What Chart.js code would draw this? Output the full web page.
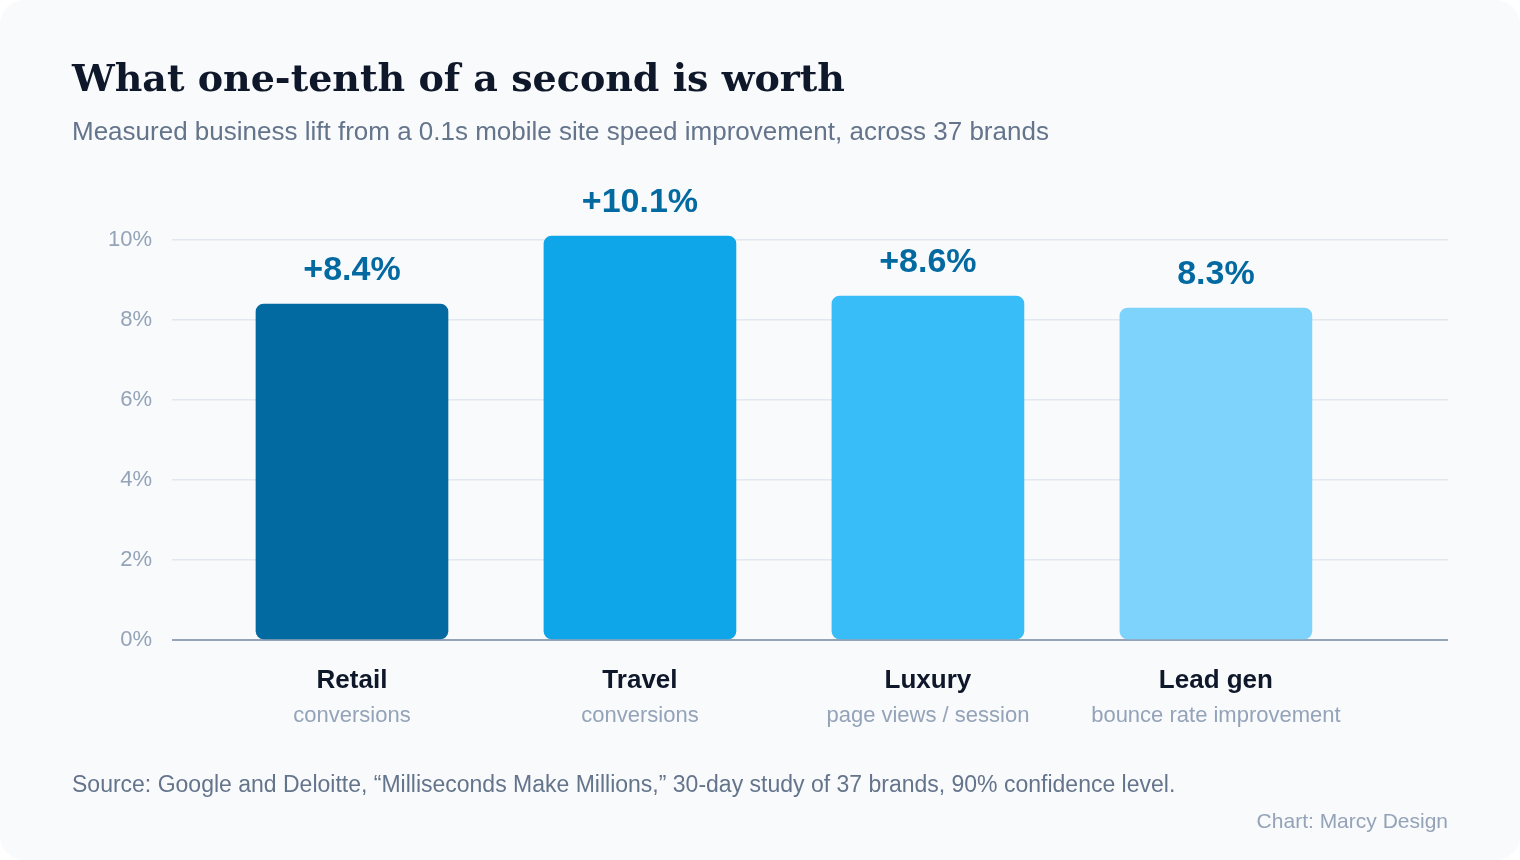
<!DOCTYPE html>
<html>
<head>
<meta charset="utf-8">
<script src="https://cdn.jsdelivr.net/npm/chart.js@4.4.1/dist/chart.umd.min.js"></script>
<style>
  html, body { margin: 0; padding: 0; background: #ffffff; }
  .card {
    position: relative; width: 1520px; height: 860px;
    background: #f8fafc; border-radius: 24px; overflow: hidden;
    font-family: "Liberation Sans", Arial, sans-serif;
  }
  .card canvas { position: absolute; left: 0; top: 0; }
  .txt { position: absolute; line-height: 1; white-space: nowrap; }
  #title { left: 72px; top: 59px; font: bold 38px "DejaVu Serif", Georgia, serif; color: #0f172a; line-height: 1; }
  #subtitle { left: 72px; top: 118px; font-size: 26px; color: #64748b; }
  #source { left: 72px; top: 773px; font-size: 23px; color: #64748b; }
  #credit { right: 72px; top: 810px; font-size: 21px; color: #94a3b8; }
</style>
</head>
<body>
<div class="card">
  <canvas id="chart" width="1520" height="860"></canvas>
  <div class="txt" id="title">What one-tenth of a second is worth</div>
  <div class="txt" id="subtitle">Measured business lift from a 0.1s mobile site speed improvement, across 37 brands</div>
  <div class="txt" id="source">Source: Google and Deloitte, “Milliseconds Make Millions,” 30-day study of 37 brands, 90% confidence level.</div>
  <div class="txt" id="credit">Chart: Marcy Design</div>
</div>
<script>
// data
var categories = ['Retail', 'Travel', 'Luxury', 'Lead gen'];
var metrics = ['conversions', 'conversions', 'page views / session', 'bounce rate improvement'];
var lift = [8.4, 10.1, 8.6, 8.3];
var valueLabels = ['+8.4%', '+10.1%', '+8.6%', '8.3%'];
var barColors = ['#0369a1', '#0ea5e9', '#38bdf8', '#7dd3fc'];
var yTicks = [0, 2, 4, 6, 8, 10];

var labelPlugin = {
  id: 'barLabels',
  afterDatasetsDraw: function (chart) {
    var ctx = chart.ctx;
    var bars = chart.getDatasetMeta(0).data;
    var base = chart.scales.y.getPixelForValue(0);
    ctx.save();
    ctx.textAlign = 'center';
    ctx.textBaseline = 'alphabetic';
    bars.forEach(function (bar, i) {
      // value above the bar
      ctx.font = 'bold 34px "Liberation Sans", Arial, sans-serif';
      ctx.fillStyle = '#0369a1';
      ctx.fillText(valueLabels[i], bar.x, bar.y - 24);
      // category + metric under the axis
      ctx.font = 'bold 26px "Liberation Sans", Arial, sans-serif';
      ctx.fillStyle = '#0f172a';
      ctx.fillText(categories[i], bar.x, base + 48);
      ctx.font = '22px "Liberation Sans", Arial, sans-serif';
      ctx.fillStyle = '#94a3b8';
      ctx.fillText(metrics[i], bar.x, base + 82);
    });
    ctx.restore();
  }
};

new Chart(document.getElementById('chart'), {
  type: 'bar',
  data: {
    datasets: [{
      data: lift.map(function (v, i) { return { x: i, y: v }; }),
      backgroundColor: barColors,
      borderRadius: 8,
      borderSkipped: false,
      barThickness: 192
    }]
  },
  options: {
    responsive: false,
    animation: false,
    layout: { padding: { left: 0, right: 72, top: 200, bottom: 220 } },
    plugins: { legend: { display: false }, tooltip: { enabled: false } },
    scales: {
      x: {
        type: 'linear', display: false, offset: false,
        min: -0.625, max: 3.806
      },
      y: {
        min: 0, max: 11,
        afterFit: function (scale) { scale.width = 172; },
        afterBuildTicks: function (scale) {
          scale.ticks = yTicks.map(function (v) { return { value: v }; });
        },
        border: { display: false },
        grid: {
          drawTicks: false,
          color: function (c) { return c.tick && c.tick.value === 0 ? '#94a3b8' : '#e2e8f0'; },
          lineWidth: function (c) { return c.tick && c.tick.value === 0 ? 2 : 1.5; }
        },
        ticks: {
          padding: 20,
          color: '#94a3b8',
          font: { family: '"Liberation Sans", Arial, sans-serif', size: 22 },
          callback: function (v) { return v + '%'; }
        }
      }
    }
  },
  plugins: [labelPlugin]
});
</script>
</body>
</html>
